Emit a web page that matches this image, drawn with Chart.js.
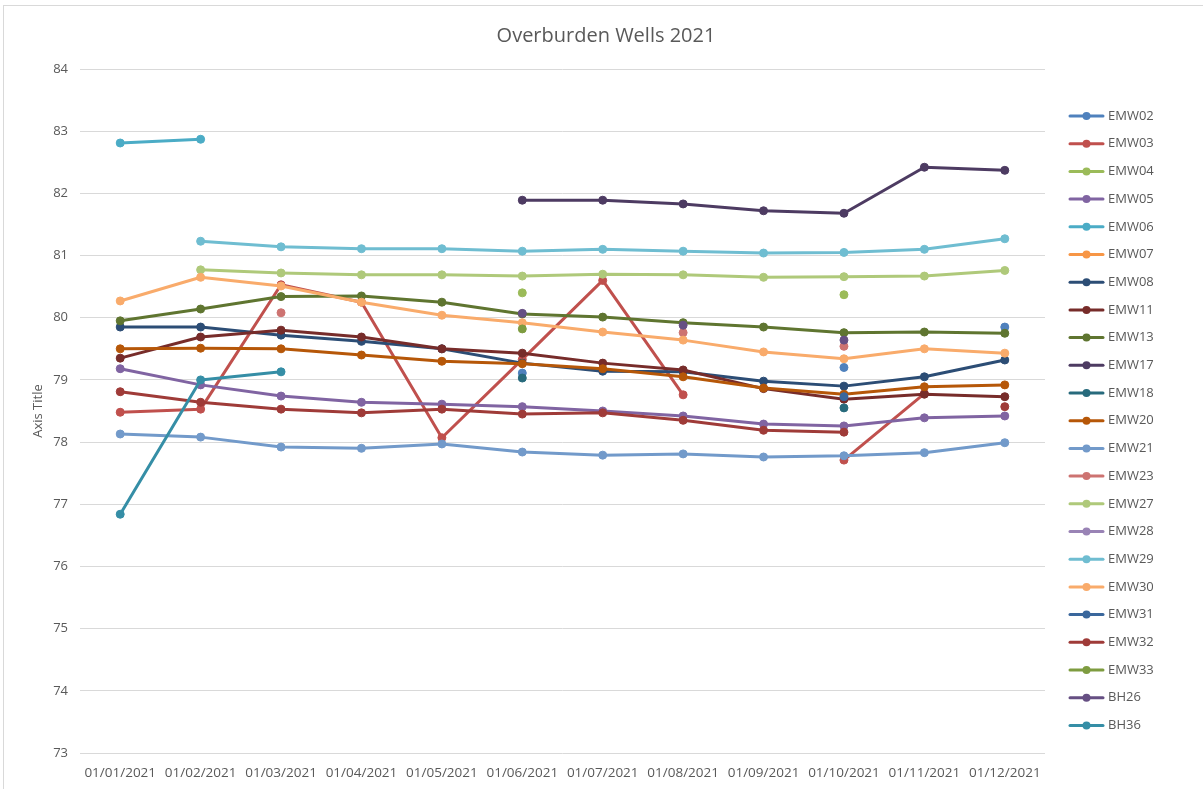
<!DOCTYPE html>
<html>
<head>
<meta charset="utf-8">
<title>Overburden Wells 2021</title>
<script src="https://cdn.jsdelivr.net/npm/chart.js@4"></script>
<style>
  html, body { margin: 0; padding: 0; background: #fff; }
  #wrap { position: relative; width: 1203px; height: 789px; }
</style>
</head>
<body>
<div id="wrap"><canvas id="wellsChart" width="1203" height="789"></canvas></div>
<script>
// monthly dip readings, one array per well (null = not measured)
const months = ['01/01/2021', '01/02/2021', '01/03/2021', '01/04/2021', '01/05/2021', '01/06/2021',
                '01/07/2021', '01/08/2021', '01/09/2021', '01/10/2021', '01/11/2021', '01/12/2021'];

const EMW02 = [null, null, null, null, null, 79.11, null, null, null, 79.20, null, 79.85];
const EMW03 = [78.48, 78.53, 80.53, 80.25, 78.07, 79.33, 80.60, 78.76, null, 77.71, 78.78, null];
const EMW04 = [null, null, null, null, null, 80.40, null, null, null, 80.37, null, null];
const EMW05 = [79.18, 78.92, 78.74, 78.64, 78.61, 78.57, 78.50, 78.42, 78.29, 78.26, 78.39, 78.42];
const EMW06 = [82.81, 82.87, null, null, null, null, null, null, null, null, null, null];
const EMW07 = [null, null, null, null, null, null, null, null, null, null, null, null];
const EMW08 = [79.85, 79.85, 79.72, 79.62, 79.50, 79.27, 79.14, 79.13, 78.98, 78.90, 79.05, 79.32];
const EMW11 = [79.35, 79.69, 79.80, 79.69, 79.50, 79.43, 79.27, 79.16, 78.86, 78.69, 78.77, 78.73];
const EMW13 = [79.95, 80.14, 80.34, 80.35, 80.25, 80.06, 80.01, 79.92, 79.85, 79.76, 79.77, 79.75];
const EMW17 = [null, null, null, null, null, 81.89, 81.89, 81.83, 81.72, 81.68, 82.42, 82.37];
const EMW18 = [null, null, null, null, null, 79.03, null, null, null, 78.55, null, null];
const EMW20 = [79.50, 79.51, 79.50, 79.40, 79.30, 79.26, 79.18, 79.05, 78.87, 78.77, 78.89, 78.92];
const EMW21 = [78.13, 78.08, 77.92, 77.90, 77.97, 77.84, 77.79, 77.81, 77.76, 77.78, 77.83, 77.99];
const EMW23 = [null, null, 80.08, null, null, null, null, 79.76, null, 79.54, null, null];
const EMW27 = [null, 80.77, 80.72, 80.69, 80.69, 80.67, 80.70, 80.69, 80.65, 80.66, 80.67, 80.76];
const EMW28 = [null, null, null, null, null, null, null, null, null, null, null, null];
const EMW29 = [null, 81.23, 81.14, 81.11, 81.11, 81.07, 81.10, 81.07, 81.04, 81.05, 81.10, 81.27];
const EMW30 = [80.27, 80.65, 80.51, 80.25, 80.04, 79.92, 79.77, 79.64, 79.45, 79.34, 79.50, 79.43];
const EMW31 = [null, null, null, null, null, null, null, null, null, 78.73, null, null];
const EMW32 = [78.81, 78.64, 78.53, 78.47, 78.53, 78.45, 78.47, 78.35, 78.19, 78.16, null, 78.57];
const EMW33 = [null, null, null, null, null, 79.82, null, null, null, null, null, null];
const BH26  = [null, null, null, null, null, 80.07, null, 79.88, null, 79.64, null, null];
const BH36  = [76.84, 79.00, 79.13, null, null, null, null, null, null, null, null, null];

const wellNames = ['EMW02', 'EMW03', 'EMW04', 'EMW05', 'EMW06', 'EMW07', 'EMW08', 'EMW11', 'EMW13', 'EMW17',
                   'EMW18', 'EMW20', 'EMW21', 'EMW23', 'EMW27', 'EMW28', 'EMW29', 'EMW30', 'EMW31', 'EMW32',
                   'EMW33', 'BH26', 'BH36'];
const wellSeries = [EMW02, EMW03, EMW04, EMW05, EMW06, EMW07, EMW08, EMW11, EMW13, EMW17,
                    EMW18, EMW20, EMW21, EMW23, EMW27, EMW28, EMW29, EMW30, EMW31, EMW32,
                    EMW33, BH26, BH36];
const yTicks = [73, 74, 75, 76, 77, 78, 79, 80, 81, 82, 83, 84];
const chartTitle = 'Overburden Wells 2021';

// office-style palette, one colour per well
const wellColours = ['#4F81BD', '#C0504D', '#9BBB59', '#8064A2', '#4BACC6', '#F79646',
                     '#2C4D75', '#772C2A', '#5F7530', '#4D3B62', '#276A7C', '#B65708',
                     '#729ACA', '#CD7371', '#AFC97A', '#9983B5', '#6FBDD1', '#F9AB6B',
                     '#3A679C', '#9F3B38', '#7E9C40', '#664F83', '#358EA6'];

const FONT = "'Open Sans', 'Liberation Sans', sans-serif";
const GREY_TEXT = '#595959';

const datasets = wellNames.map((name, i) => ({
    label: name,
    data: wellSeries[i],
    borderColor: wellColours[i],
    backgroundColor: wellColours[i],
    pointBackgroundColor: wellColours[i],
    pointBorderColor: wellColours[i],
    borderWidth: 3,
    pointRadius: 4,
    pointBorderWidth: 1,
    borderJoinStyle: 'round',
    borderCapStyle: 'round',
    tension: 0,
    spanGaps: false,
    // later wells sit on top of earlier ones
    order: wellNames.length - i,
}));

// white background, frame round the chart and the title centred on the full width
const framePlugin = {
    id: 'frame',
    beforeDraw(chart) {
        const ctx = chart.ctx;
        ctx.save();
        ctx.fillStyle = '#ffffff';
        ctx.fillRect(0, 0, chart.width, chart.height);
        ctx.strokeStyle = '#d9d9d9';
        ctx.lineWidth = 1;
        ctx.strokeRect(3.5, 5.5, chart.width, chart.height);
        ctx.fillStyle = GREY_TEXT;
        ctx.font = '20px ' + FONT;
        ctx.textAlign = 'center';
        ctx.textBaseline = 'middle';
        ctx.fillText(chartTitle, 606, 36);
        ctx.restore();
    }
};

// legend on the right: short line with a marker, then the well name
const sideLegend = {
    id: 'sideLegend',
    afterDraw(chart) {
        const ctx = chart.ctx;
        const x0 = 1070, x1 = 1103, textX = 1108;
        const top = 116, step = 27.7;
        ctx.save();
        ctx.font = '13px ' + FONT;
        ctx.textBaseline = 'middle';
        ctx.textAlign = 'left';
        chart.data.datasets.forEach((ds, i) => {
            const y = top + i * step;
            ctx.strokeStyle = ds.borderColor;
            ctx.lineWidth = 3;
            ctx.lineCap = 'round';
            ctx.beginPath();
            ctx.moveTo(x0, y);
            ctx.lineTo(x1, y);
            ctx.stroke();
            ctx.fillStyle = ds.borderColor;
            ctx.beginPath();
            ctx.arc((x0 + x1) / 2, y, 4, 0, Math.PI * 2);
            ctx.fill();
            ctx.fillStyle = GREY_TEXT;
            ctx.fillText(ds.label, textX, y);
        });
        ctx.restore();
    }
};

new Chart(document.getElementById('wellsChart'), {
    type: 'line',
    data: { labels: months, datasets: datasets },
    options: {
        responsive: false,
        animation: false,
        layout: { padding: { left: 0, right: 158, top: 69, bottom: 0 } },
        plugins: {
            legend: { display: false },
            tooltip: { enabled: false },
            title: { display: false },
        },
        scales: {
            x: {
                offset: true,
                grid: { display: false, drawTicks: false },
                border: { display: false },
                ticks: {
                    color: GREY_TEXT,
                    font: { family: FONT, size: 13.5 },
                    padding: 12,
                    maxRotation: 0,
                    autoSkip: false,
                },
                afterFit(scale) { scale.height = 36; },
            },
            y: {
                min: 73,
                max: 84,
                afterBuildTicks(scale) { scale.ticks = yTicks.map(v => ({ value: v })); },
                grid: { color: '#d9d9d9', lineWidth: 1, drawTicks: false },
                border: { display: false },
                ticks: {
                    color: GREY_TEXT,
                    font: { family: FONT, size: 13 },
                    padding: 12,
                },
                title: {
                    display: true,
                    text: 'Axis Title',
                    color: GREY_TEXT,
                    font: { family: FONT, size: 13 },
                    padding: { top: 30, bottom: 0 },
                },
                afterFit(scale) { scale.width = 80; },
            },
        },
    },
    plugins: [framePlugin, sideLegend],
});
</script>
</body>
</html>
